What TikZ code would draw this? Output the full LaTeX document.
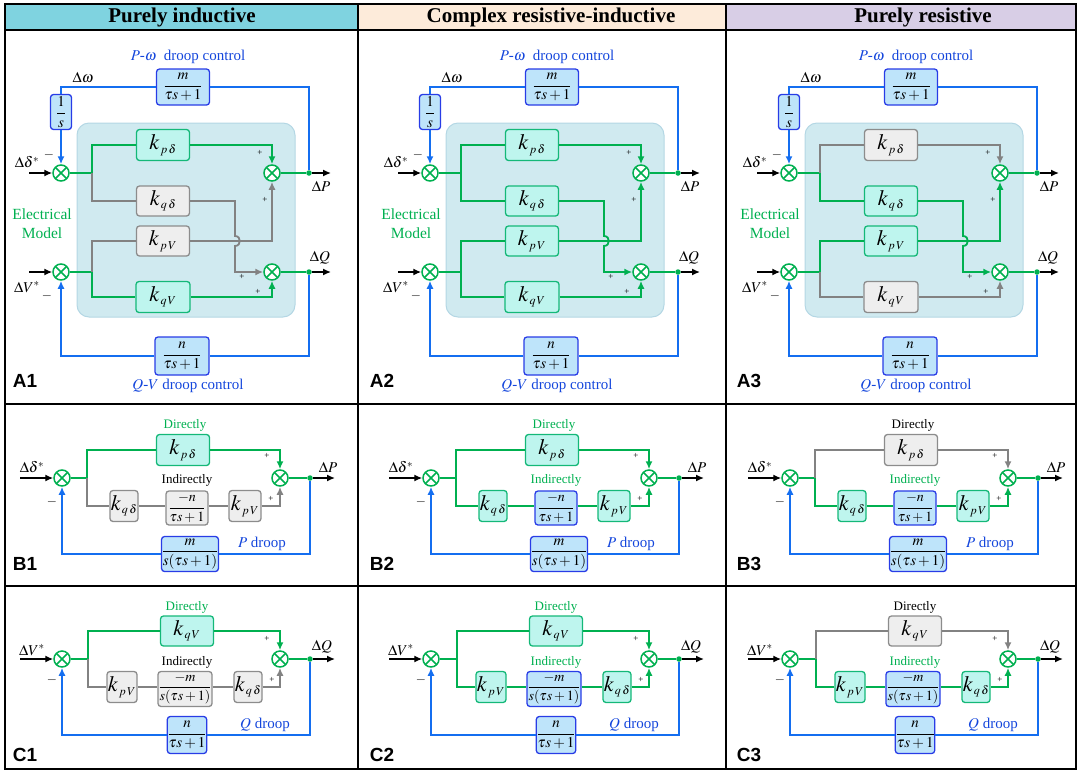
\documentclass[tikz,border=0pt]{standalone}
\usepackage{amsmath}
\usepackage{mathptmx}
\usepackage{fontspec}
\setmainfont{Liberation Serif}
\newfontfamily\lsans{Liberation Sans}
\usetikzlibrary{arrows.meta}
\definecolor{cgreen}{RGB}{0,176,80}
\definecolor{cgbord}{RGB}{20,184,120}
\definecolor{cgfill}{RGB}{190,245,238}
\definecolor{cyline}{RGB}{130,130,130}
\definecolor{cybord}{RGB}{140,140,140}
\definecolor{cyfill}{RGB}{238,238,238}
\definecolor{cblue}{RGB}{20,110,240}
\definecolor{cbbord}{RGB}{40,60,230}
\definecolor{cbfill}{RGB}{190,228,250}
\definecolor{cbtext}{RGB}{20,70,220}
\definecolor{cemfill}{RGB}{208,234,240}
\definecolor{cemb}{RGB}{180,215,228}
\definecolor{chd1}{RGB}{127,211,224}
\definecolor{chd2}{RGB}{253,235,218}
\definecolor{chd3}{RGB}{216,206,230}
\newcommand{\kk}[1]{$k_{\hbox{\fontsize{12}{13}\selectfont$\,#1$}}$}
\newcommand{\fr}[2]{{\fontsize{15}{17}\selectfont$\dfrac{#1}{#2}$}}
\newcommand{\frs}[2]{{\fontsize{14}{16}\selectfont$\dfrac{#1}{#2}$}}
\tikzset{
  ln-g/.style={draw=cgreen, line width=1.8pt},
  ln-y/.style={draw=cyline, line width=1.8pt},
  ln-b/.style={draw=cblue, line width=1.8pt},
  ln-k/.style={draw=black, line width=1.4pt},
  tip/.style={-{Latex[length=8pt,width=7pt]}},
  boxbase/.style={rectangle, rounded corners=3pt, line width=1.3pt, inner sep=0pt, font=\fontsize{22}{26}\selectfont},
  box-g/.style={boxbase, draw=cgbord, fill=cgfill},
  box-y/.style={boxbase, draw=cybord, fill=cyfill},
  box-b/.style={boxbase, draw=cbbord, fill=cbfill},
  mid-g/.style={box-b},
  mid-y/.style={box-y},
  txt-g/.style={text=cgreen},
  txt-y/.style={text=black},
  sumn/.style={circle, draw=cgreen, line width=1.5pt, fill=white, minimum size=16pt, inner sep=0pt,
    path picture={\draw[cgreen, line width=1.5pt] (path picture bounding box.north west) -- (path picture bounding box.south east) (path picture bounding box.north east) -- (path picture bounding box.south west);}},
  dotn/.style={circle, fill=cgreen, inner sep=0pt, minimum size=5.5pt},
  lbl/.style={font=\fontsize{15}{17}\selectfont, inner sep=0pt},
  blt/.style={font=\fontsize{15}{17}\selectfont, inner sep=0pt, text=cbtext},
  pm/.style={font=\fontsize{9}{10}\selectfont, inner sep=0pt},
  mn/.style={font=\fontsize{13}{14}\selectfont, inner sep=0pt},
  dl/.style={font=\fontsize{13}{15}\selectfont, inner sep=0pt},
  hdr/.style={font=\fontsize{21}{24}\selectfont\bfseries, inner sep=0pt},
  plbl/.style={font=\fontsize{19}{22}\selectfont\lsans\bfseries, inner sep=0pt},
  emreg/.style={fill=cemfill, draw=cemb, line width=1pt, rounded corners=12pt},
  frame/.style={draw=black, line width=1.8pt},
}
% A panel: #1 tag, #2 shift, #3 kpd, #4 kqd, #5 kpv, #6 kqv
\newcommand{\Apanel}[6]{%
\begin{scope}[xshift=#2pt]
  \draw[emreg] (77,123) rectangle (295,317);
  \node[blt] (#1tt) at (188,57) {$P$-$\omega$\ \ droop control};
  \node[blt] (#1tb) at (188,386) {$Q$-$V$ droop control};
  \node[lbl] (#1w) at (83,77) {$\Delta\omega$};
  \node[box-b, minimum width=53pt, minimum height=36pt] (#1m) at (183,87) {\fr{m}{\tau s+1}};
  \node[box-b, minimum width=21pt, minimum height=35pt] (#1is) at (61,112) {\fr{1}{s}};
  \node[box-b, minimum width=54pt, minimum height=38pt] (#1n) at (182,356) {\fr{n}{\tau s+1}};
  \node[sumn] (#1sd) at (61,173) {};
  \node[sumn] (#1sv) at (61,272) {};
  \node[sumn] (#1sp) at (272,173) {};
  \node[sumn] (#1sq) at (272,272) {};
  \node[dotn] (#1dp) at (309,173) {};
  \node[dotn] (#1dq) at (309,272) {};
  \coordinate (#1ep) at (331,173);
  \coordinate (#1eq) at (331,272);
  \coordinate (#1id) at (29,173);
  \coordinate (#1iv) at (29,272);
  \coordinate (#1bd) at (92,173);
  \coordinate (#1bv) at (92,272);
  \coordinate (#1hA) at (235,236);
  \coordinate (#1hB) at (241.5,236);
  \coordinate (#1hC) at (241.5,246);
  \coordinate (#1hD) at (235,246);
  \coordinate (#1hE) at (235,272);
  \node[box-#3, minimum width=53pt, minimum height=31pt] (#1kpd) at (163,145) {\kk{p\,\delta}};
  \node[box-#4, minimum width=53pt, minimum height=30pt] (#1kqd) at (163,201) {\kk{q\,\delta}};
  \node[box-#5, minimum width=53pt, minimum height=30pt] (#1kpv) at (163,241) {\kk{p\,V}};
  \node[box-#6, minimum width=54pt, minimum height=31pt] (#1kqv) at (163,297) {\kk{q\,V}};
  \node[dl, align=center, text=cgreen, font=\fontsize{15.5}{19}\selectfont] (#1em) at (42,224) {Electrical\\Model};
  % signal lines
  \draw[ln-g] (#1sd) -- (#1bd);
  \draw[ln-g] (#1sv) -- (#1bv);
  \draw[ln-#3] (#1bd) |- (#1kpd);
  \draw[ln-#4] (#1bd) |- (#1kqd);
  \draw[ln-#5] (#1bv) |- (#1kpv);
  \draw[ln-#6] (#1bv) |- (#1kqv);
  \draw[ln-#3, tip] (#1kpd) -| (#1sp);
  \draw[ln-#5, tip] (#1kpv) -| (#1sp);
  \draw[ln-#6, tip] (#1kqv) -| (#1sq);
  \draw[ln-#4, tip] (#1kqd) -| (#1hA) .. controls (#1hB) and (#1hC) .. (#1hD) -- (#1hE) -- (#1sq);
  \draw[ln-g] (#1sp) -- (#1dp);
  \draw[ln-g] (#1sq) -- (#1dq);
  \draw[ln-k, tip] (#1dp) -- (#1ep);
  \draw[ln-k, tip] (#1dq) -- (#1eq);
  \draw[ln-k, tip] (#1id) -- (#1sd);
  \draw[ln-k, tip] (#1iv) -- (#1sv);
  \draw[ln-b, tip] (#1dp) |- (#1m) -| (#1is) -- (#1sd);
  \draw[ln-b, tip] (#1dq) |- (#1n) -| (#1sv);
  % labels
  \node[lbl] (#1ld) at (27,162) {$\Delta\delta^{*}$};
  \node[lbl] (#1lv) at (27,287) {$\Delta V^{*}$};
  \node[lbl] (#1lp) at (321,186) {$\Delta P$};
  \node[lbl] (#1lq) at (320,258) {$\Delta Q$};
  \node[mn] (#1m1) at (49,155) {$-$};
  \node[mn] (#1m2) at (47,296) {$-$};
  \node[pm] (#1p1) at (260,153) {+};
  \node[pm] (#1p2) at (265,200) {+};
  \node[pm] (#1p3) at (242,277) {+};
  \node[pm] (#1p4) at (258,292) {+};
\end{scope}}
% B panel: #1 tag, #2 shift, #3 direct, #4 indirect
\newcommand{\Bpanel}[4]{%
\begin{scope}[xshift=#2pt]
  \node[sumn] (#1s1) at (62,478) {};
  \node[sumn] (#1s2) at (280,478) {};
  \node[dotn] (#1dt) at (310,478) {};
  \coordinate (#1br) at (87,478);
  \coordinate (#1in) at (20,478);
  \coordinate (#1out) at (335,478);
  \node[box-#3, minimum width=53pt, minimum height=31pt] (#1kpd) at (183,450) {\kk{p\,\delta}};
  \node[box-#4, minimum width=28pt, minimum height=31pt] (#1kqd) at (124,506) {\kk{q\,\delta}};
  \node[mid-#4, minimum width=42pt, minimum height=34pt] (#1mid) at (187,508) {\frs{-n}{\tau s+1}};
  \node[box-#4, minimum width=32pt, minimum height=31pt] (#1kpv) at (245,506) {\kk{p\,V}};
  \node[box-b, minimum width=54pt, minimum height=35pt] (#1fb) at (190,554) {\fr{m}{s(\tau s+1)}};
  \draw[ln-g] (#1s1) -- (#1br);
  \draw[ln-#3] (#1br) |- (#1kpd);
  \draw[ln-#3, tip] (#1kpd) -| (#1s2);
  \draw[ln-#4] (#1br) |- (#1kqd);
  \draw[ln-#4] (#1kqd) -- (#1kqd -| #1mid.west);
  \draw[ln-#4] (#1mid.east |- #1kpv) -- (#1kpv);
  \draw[ln-#4, tip] (#1kpv) -| (#1s2);
  \draw[ln-g] (#1s2) -- (#1dt);
  \draw[ln-k, tip] (#1dt) -- (#1out);
  \draw[ln-k, tip] (#1in) -- (#1s1);
  \draw[ln-b, tip] (#1dt) |- (#1fb) -| (#1s1);
  \node[dl, txt-#3] (#1t1) at (185,425) {Directly};
  \node[dl, txt-#4] (#1t2) at (187,480.5) {Indirectly};
  \node[blt] (#1t3) at (262,544) {$P$ droop};
  \node[lbl] (#1ld) at (32,467) {$\Delta\delta^{*}$};
  \node[lbl] (#1lp) at (328,467) {$\Delta P$};
  \node[mn] (#1m1) at (52,502) {$-$};
  \node[pm] (#1p1) at (267,456) {+};
  \node[pm] (#1p2) at (271,499) {+};
\end{scope}}
% C panel
\newcommand{\Cpanel}[4]{%
\begin{scope}[xshift=#2pt]
  \node[sumn] (#1s1) at (62,659) {};
  \node[sumn] (#1s2) at (280,659) {};
  \node[dotn] (#1dt) at (310,659) {};
  \coordinate (#1br) at (88,659);
  \coordinate (#1in) at (20,659);
  \coordinate (#1out) at (335,659);
  \node[box-#3, minimum width=53pt, minimum height=30pt] (#1kqv) at (187,631) {\kk{q\,V}};
  \node[box-#4, minimum width=30pt, minimum height=31pt] (#1kpv) at (122,687) {\kk{p\,V}};
  \node[mid-#4, minimum width=54pt, minimum height=35pt] (#1mid) at (185,689) {\frs{-m}{s(\tau s+1)}};
  \node[box-#4, minimum width=28pt, minimum height=31pt] (#1kqd) at (248,687) {\kk{q\,\delta}};
  \node[box-b, minimum width=38pt, minimum height=37pt] (#1fb) at (187,735) {\fr{n}{\tau s+1}};
  \draw[ln-g] (#1s1) -- (#1br);
  \draw[ln-#3] (#1br) |- (#1kqv);
  \draw[ln-#3, tip] (#1kqv) -| (#1s2);
  \draw[ln-#4] (#1br) |- (#1kpv);
  \draw[ln-#4] (#1kpv) -- (#1kpv -| #1mid.west);
  \draw[ln-#4] (#1mid.east |- #1kqd) -- (#1kqd);
  \draw[ln-#4, tip] (#1kqd) -| (#1s2);
  \draw[ln-g] (#1s2) -- (#1dt);
  \draw[ln-k, tip] (#1dt) -- (#1out);
  \draw[ln-k, tip] (#1in) -- (#1s1);
  \draw[ln-b, tip] (#1dt) |- (#1fb) -| (#1s1);
  \node[dl, txt-#3] (#1t1) at (187,607) {Directly};
  \node[dl, txt-#4] (#1t2) at (187,662) {Indirectly};
  \node[blt] (#1t3) at (265,725) {$Q$ droop};
  \node[lbl] (#1lv) at (32,650) {$\Delta V^{*}$};
  \node[lbl] (#1lq) at (322,647) {$\Delta Q$};
  \node[mn] (#1m1) at (52,680) {$-$};
  \node[pm] (#1p1) at (267,639) {+};
  \node[pm] (#1p2) at (272,680) {+};
\end{scope}}
\begin{document}
\begin{tikzpicture}[x=1pt,y=-1pt]
\useasboundingbox (0,0) rectangle (1079,772);
\fill[chd1] (5,4) rectangle (358,30);
\fill[chd2] (358,4) rectangle (726,30);
\fill[chd3] (726,4) rectangle (1076,30);
\node[hdr] (h1) at (182,17) {Purely inductive};
\node[hdr] (h2) at (551,17) {Complex resistive-inductive};
\node[hdr] (h3) at (923,17) {Purely resistive};
\Apanel{a1}{0}{g}{y}{y}{g}
\Apanel{a2}{369}{g}{g}{g}{g}
\Apanel{a3}{728}{y}{g}{g}{y}
\Bpanel{b1}{0}{g}{y}
\Bpanel{b2}{369}{g}{g}
\Bpanel{b3}{728}{y}{g}
\Cpanel{c1}{0}{g}{y}
\Cpanel{c2}{369}{g}{g}
\Cpanel{c3}{728}{y}{g}
\node[plbl] (la1) at (25,381) {A1};
\node[plbl] (la2) at (382,381) {A2};
\node[plbl] (la3) at (749,381) {A3};
\node[plbl] (lb1) at (25,564) {B1};
\node[plbl] (lb2) at (382,564) {B2};
\node[plbl] (lb3) at (749,564) {B3};
\node[plbl] (lc1) at (25,755) {C1};
\node[plbl] (lc2) at (382,755) {C2};
\node[plbl] (lc3) at (749,755) {C3};
\draw[frame] (5,4) rectangle (1076,769);
\draw[frame] (5,30) -- (1076,30);
\draw[frame] (5,404) -- (1076,404);
\draw[frame] (5,586) -- (1076,586);
\draw[frame] (358,4) -- (358,769);
\draw[frame] (726,4) -- (726,769);
\end{tikzpicture}
\end{document}
